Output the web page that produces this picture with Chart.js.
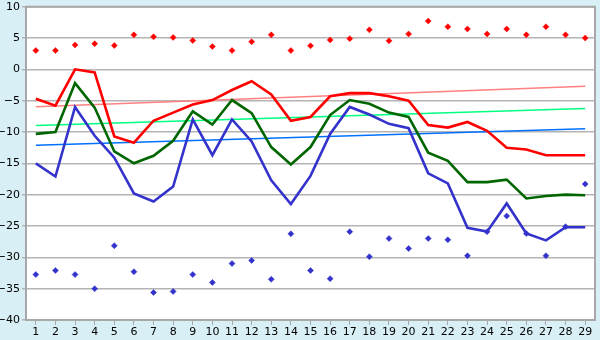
<!DOCTYPE html>
<html>
<head>
<meta charset="utf-8">
<script src="https://cdn.jsdelivr.net/npm/chart.js@4/dist/chart.umd.min.js"></script>
<style>
  html, body { margin: 0; padding: 0; background: #d9eff6; }
  #wrap { width: 600px; height: 340px; }
</style>
</head>
<body>
<div id="wrap"><canvas id="myChart" width="600" height="340"></canvas></div>
<script>
var days = ['1','2','3','4','5','6','7','8','9','10','11','12','13','14','15','16','17','18','19','20','21','22','23','24','25','26','27','28','29'];

var redLine = [-4.7, -5.8, 0, -0.5, -10.7, -11.7, -8.2, -6.9, -5.6, -4.9, -3.3, -1.9, -4.0, -8.2, -7.6, -4.3, -3.8, -3.8, -4.3, -5.0, -8.9, -9.3, -8.4, -9.8, -12.5, -12.8, -13.7, -13.7, -13.7];
var greenLine = [-10.3, -10.0, -2.2, -6.1, -13.1, -15.0, -13.8, -11.4, -6.7, -8.8, -4.9, -7.0, -12.4, -15.2, -12.4, -7.3, -4.9, -5.5, -6.9, -7.6, -13.3, -14.6, -18.0, -18.0, -17.6, -20.6, -20.2, -20.0, -20.1];
var blueLine = [-15.0, -17.1, -6.0, -10.6, -14.1, -19.8, -21.1, -18.7, -8.0, -13.7, -8.0, -11.5, -17.7, -21.5, -17.0, -10.3, -6.0, -7.2, -8.7, -9.4, -16.6, -18.2, -25.3, -25.9, -21.4, -26.2, -27.3, -25.2, -25.2];

var redPoints = [3.0, 3.0, 3.9, 4.1, 3.8, 5.5, 5.2, 5.1, 4.6, 3.65, 3.0, 4.4, 5.5, 3.0, 3.75, 4.7, 4.9, 6.3, 4.55, 5.65, 7.7, 6.8, 6.45, 5.65, 6.45, 5.5, 6.8, 5.5, 5.0];
var bluePoints = [-32.75, -32.1, -32.75, -35.0, -28.15, -32.3, -35.6, -35.45, -32.75, -34.0, -31.0, -30.5, -33.5, -26.25, -32.1, -33.4, -25.9, -29.9, -27.0, -28.6, -27.0, -27.2, -29.75, -25.9, -23.4, -26.2, -29.75, -25.1, -18.3];

// trend lines: first and last day only
var redTrend = [-5.95].concat(new Array(27).fill(null), [-2.7]);
var greenTrend = [-8.95].concat(new Array(27).fill(null), [-6.25]);
var blueTrend = [-12.1].concat(new Array(27).fill(null), [-9.5]);

var yTicks = [10, 5, 0, -5, -10, -15, -20, -25, -30, -35, -40];

var frame = {
    id: 'frame',
    beforeDraw: function(chart) {
        var a = chart.chartArea, c = chart.ctx;
        c.save();
        c.fillStyle = '#ffffff';
        c.fillRect(a.left, a.top, a.right - a.left, a.bottom - a.top);
        c.restore();
    },
    afterDatasetsDraw: function(chart) {
        var a = chart.chartArea, c = chart.ctx;
        c.save();
        c.strokeStyle = '#a8a8a8';
        c.lineWidth = 2;
        c.beginPath();
        c.moveTo(a.left, a.top);
        c.lineTo(a.right, a.top);
        c.lineTo(a.right, a.bottom);
        c.stroke();
        c.restore();
    }
};

function lineSet(data, color) {
    return {
        data: data, borderColor: color, backgroundColor: color,
        borderWidth: 2.6, pointRadius: 0, tension: 0, order: 2
    };
}
function trendSet(data, color) {
    return {
        data: data, borderColor: color, backgroundColor: color,
        borderWidth: 1.5, pointRadius: 0, spanGaps: true, order: 5
    };
}
function pointSet(data, color) {
    return {
        data: data, borderColor: color, backgroundColor: color,
        showLine: false, pointStyle: 'rectRot', pointRadius: 3, borderWidth: 0.5, order: 1
    };
}

var ctx = document.getElementById('myChart');
var chart = new Chart(ctx, {
    type: 'line',
    data: {
        labels: days,
        datasets: [
            trendSet(redTrend, '#ff8080'),
            trendSet(greenTrend, '#00ff80'),
            trendSet(blueTrend, '#0070ff'),
            lineSet(redLine, '#ff0000'),
            lineSet(greenLine, '#006600'),
            lineSet(blueLine, '#3333cc'),
            pointSet(redPoints, '#ff0000'),
            pointSet(bluePoints, '#3333cc')
        ]
    },
    options: {
        responsive: false,
        animation: false,
        layout: { padding: { top: 0, right: 5, left: 0, bottom: 0 } },
        plugins: { legend: { display: false }, tooltip: { enabled: false } },
        scales: {
            x: {
                offset: true,
                grid: { display: true, drawOnChartArea: false, drawTicks: true, tickLength: 5, color: '#a8a8a8', offset: false },
                border: { color: '#a8a8a8', width: 2 },
                ticks: { color: '#000', font: { family: 'DejaVu Sans', size: 11 }, padding: 1, maxRotation: 0, autoSkip: false },
                afterFit: function(s) { s.height = 20; }
            },
            y: {
                min: -40, max: 10,
                afterBuildTicks: function(s) { s.ticks = yTicks.map(function(v) { return { value: v }; }); },
                grid: { color: '#b4b4b4', lineWidth: 1.5, tickLength: 4 },
                border: { color: '#a8a8a8', width: 2 },
                ticks: {
                    color: '#000', font: { family: 'DejaVu Sans', size: 11, lineHeight: 0.85 }, padding: 2,
                    callback: function(v) { return v < 0 ? '\u2212' + Math.abs(v) : String(v); }
                },
                afterFit: function(s) { s.width = 26; }
            }
        }
    },
    plugins: [frame]
});
</script>
</body>
</html>
